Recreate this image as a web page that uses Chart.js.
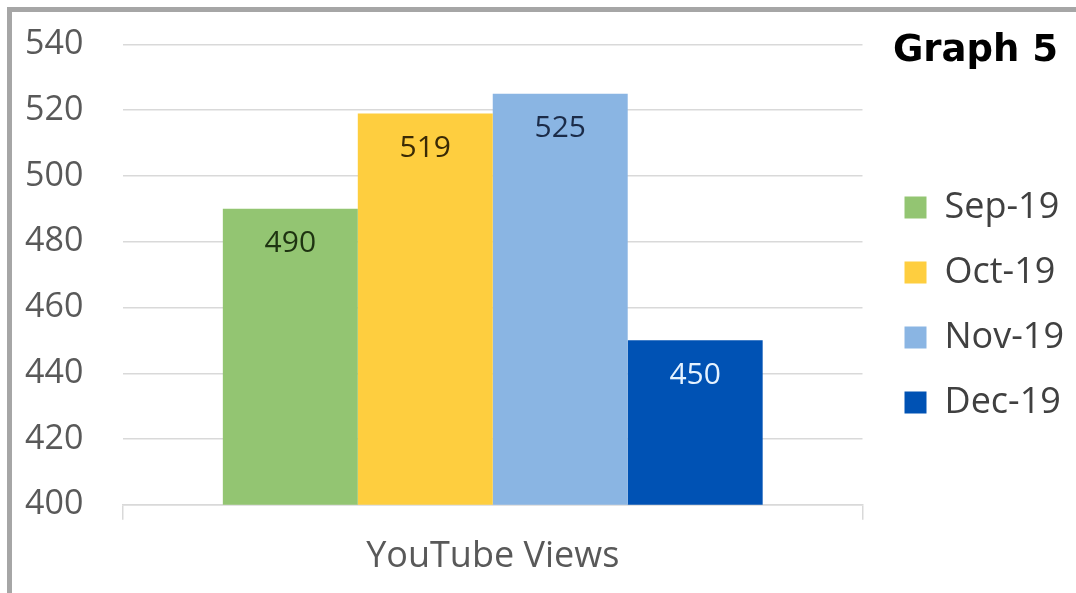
<!DOCTYPE html>
<html>
<head>
<meta charset="utf-8">
<script src="https://cdn.jsdelivr.net/npm/chart.js@4/dist/chart.umd.min.js"></script>
<style>
  html, body { margin: 0; padding: 0; background: #fff; }
  #wrap { position: relative; width: 1076px; height: 593px; overflow: hidden; }
  #frame { position: absolute; left: 7px; top: 7px; right: -10px; bottom: -10px;
           border-top: 5px solid #a6a6a6; border-left: 5px solid #a6a6a6; pointer-events: none; }
  #title { position: absolute; right: 18px; top: 27px; font-family: "DejaVu Sans", sans-serif;
           font-weight: bold; font-size: 37px; color: #000; }
  canvas { position: absolute; left: 0; top: 0; }
</style>
</head>
<body>
<div id="wrap">
  <canvas id="c" width="1076" height="593"></canvas>
  <div id="frame"></div>
  <div id="title">Graph 5</div>
</div>
<script>
const categories = ["YouTube Views"];
const seriesNames = ["Sep-19", "Oct-19", "Nov-19", "Dec-19"];
const sep19 = [490];
const oct19 = [519];
const nov19 = [525];
const dec19 = [450];
const yTicks = [400, 420, 440, 460, 480, 500, 520, 540];

const seriesValues = [sep19, oct19, nov19, dec19];
const colors = ["#93c572", "#fece3f", "#8ab5e3", "#0052b4"];
const labelColors = ["#1e3311", "#3a2a05", "#1b2b48", "#e6f3ff"];
const LEGEND_GAP = 13;

const insideEndLabels = {
  id: "insideEndLabels",
  afterDatasetsDraw(chart) {
    const ctx = chart.ctx;
    ctx.save();
    ctx.font = '30px "Open Sans", sans-serif';
    ctx.textAlign = "center";
    ctx.textBaseline = "middle";
    chart.data.datasets.forEach((ds, i) => {
      const meta = chart.getDatasetMeta(i);
      meta.data.forEach((bar, j) => {
        ctx.fillStyle = labelColors[i];
        ctx.fillText(String(ds.data[j]), bar.x, bar.y + 35);
      });
    });
    ctx.restore();
  }
};

const legendGap = {
  id: "legendGap",
  beforeLayout(chart) {
    const lg = chart.legend;
    if (!lg || lg._gapPatched) return;
    lg._gapPatched = true;
    const origFit = lg.fit;
    lg.fit = function () { origFit.call(this); this.width += LEGEND_GAP; };
    const origDraw = lg.draw;
    lg.draw = function () {
      this.left += LEGEND_GAP;
      origDraw.call(this);
      this.left -= LEGEND_GAP;
    };
  }
};

new Chart(document.getElementById("c"), {
  type: "bar",
  data: {
    labels: categories,
    datasets: seriesNames.map((n, i) => ({
      label: n,
      data: seriesValues[i],
      backgroundColor: colors[i],
      borderWidth: 0,
      barPercentage: 1.0,
      categoryPercentage: 0.73
    }))
  },
  options: {
    responsive: false,
    animation: false,
    devicePixelRatio: 1,
    layout: { padding: { left: 25, right: 2, top: 17, bottom: 0 } },
    plugins: {
      legend: {
        position: "right",
        labels: {
          boxWidth: 22,
          boxHeight: 22,
          padding: 29,
          color: "#404040",
          font: { family: '"Open Sans", sans-serif', size: 36 }
        }
      },
      tooltip: { enabled: false }
    },
    scales: {
      y: {
        min: 400,
        max: 540,
        afterBuildTicks(axis) { axis.ticks = yTicks.map(v => ({ value: v })); },
        afterFit(axis) { axis.width = 98; },
        ticks: {
          color: "#595959",
          padding: 24,
          crossAlign: "far",
          font: { family: '"Open Sans", sans-serif', size: 34 }
        },
        grid: { color: "#d9d9d9", lineWidth: 1.5, drawTicks: false },
        border: { display: false }
      },
      x: {
        ticks: {
          color: "#595959",
          padding: 15,
          font: { family: '"Open Sans", sans-serif', size: 36 }
        },
        grid: { display: true, drawOnChartArea: false, drawTicks: true, tickLength: 15, color: "#d9d9d9", lineWidth: 1.5 },
        border: { display: true, color: "#d9d9d9", width: 1.5 }
      }
    }
  },
  plugins: [insideEndLabels, legendGap]
});
</script>
</body>
</html>
